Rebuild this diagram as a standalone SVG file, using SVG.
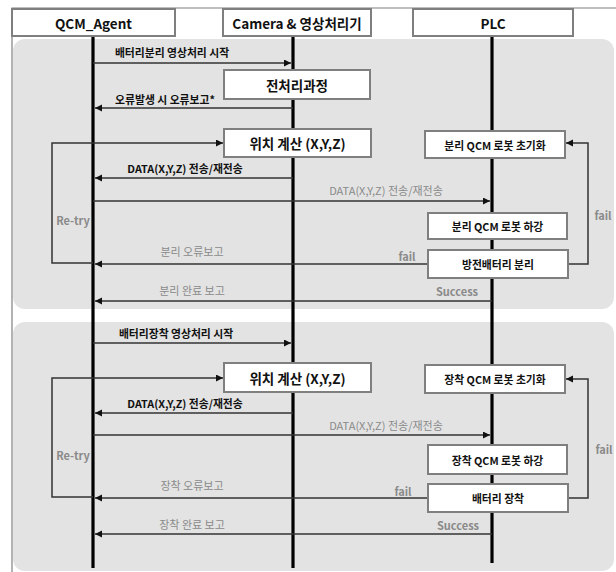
<svg xmlns="http://www.w3.org/2000/svg" width="616" height="572" viewBox="0 0 616 572">
<style>
.bg{fill:#e3e3e3}
.frame{stroke:#808080;stroke-width:1.2;fill:none}
.life{stroke:#000;stroke-width:3.2}
.msg{stroke:#333;stroke-width:1.5;fill:none}
.box{fill:#fff;stroke:#7f7f7f;stroke-width:2}
text{font-family:"Noto Sans CJK KR","Noto Sans",sans-serif;dominant-baseline:central;text-anchor:middle}
.h{font-size:13.5px;font-weight:bold;fill:#111}
.bb{font-size:13.5px;font-weight:bold;fill:#111}
.lb{font-size:10.8px;font-weight:bold;fill:#111}
.gl{font-size:11px;fill:#8a8a8a}
.gb{font-size:11px;font-weight:bold;fill:#8a8a8a}
</style>
<defs>
<marker id="ah" markerUnits="userSpaceOnUse" markerWidth="8" markerHeight="8" refX="7" refY="3.5" orient="auto">
<path d="M0,0 L7,3.5 L0,7 z" fill="#111"/>
</marker>
</defs>
<rect width="616" height="572" fill="#fff"/>
<path class="frame" d="M616,8 H12 V572"/>
<rect class="bg" x="13" y="39" width="601" height="270" rx="12"/>
<rect class="bg" x="13" y="322" width="601" height="249" rx="12"/>

<g id="lifelines">
<line class="life" x1="93" y1="36" x2="93" y2="568"/>
<line class="life" x1="293" y1="36" x2="293" y2="568"/>
<line class="life" x1="492" y1="36" x2="492" y2="563"/>
</g>

<g id="connectors">
<path class="msg" d="M93,63 H291" marker-end="url(#ah)"/>
<path class="msg" d="M293,108 H95" marker-end="url(#ah)"/>
<path class="msg" d="M93,263 H52 V143 H223" marker-end="url(#ah)"/>
<path class="msg" d="M293,178 H95" marker-end="url(#ah)"/>
<path class="msg" d="M93,201 H490" marker-end="url(#ah)"/>
<path class="msg" d="M428,264 H95" marker-end="url(#ah)"/>
<path class="msg" d="M492,301 H95" marker-end="url(#ah)"/>
<path class="msg" d="M568,264 H588 V143 H566" marker-end="url(#ah)"/>
<path class="msg" d="M93,343 H291" marker-end="url(#ah)"/>
<path class="msg" d="M93,497 H52 V378 H223" marker-end="url(#ah)"/>
<path class="msg" d="M293,413 H95" marker-end="url(#ah)"/>
<path class="msg" d="M93,435 H490" marker-end="url(#ah)"/>
<path class="msg" d="M428,498 H95" marker-end="url(#ah)"/>
<path class="msg" d="M492,534 H95" marker-end="url(#ah)"/>
<path class="msg" d="M568,498 H588 V379 H566" marker-end="url(#ah)"/>
<text class="lb" x="172" y="52">배터리분리 영상처리 시작</text>
<text class="lb" x="165" y="99">오류발생 시 오류보고*</text>
<text class="lb" x="185" y="168">DATA(X,Y,Z) 전송/재전송</text>
<text class="gl" x="386" y="190">DATA(X,Y,Z) 전송/재전송</text>
<text class="gb" x="73" y="220">Re-try</text>
<text class="gl" x="192" y="251">분리 오류보고</text>
<text class="gb" x="407" y="256">fail</text>
<text class="gl" x="192" y="290">분리 완료 보고</text>
<text class="gb" x="457" y="291">Success</text>
<text class="gb" x="603" y="215">fail</text>
<text class="lb" x="176" y="333">배터리장착 영상처리 시작</text>
<text class="lb" x="185" y="403">DATA(X,Y,Z) 전송/재전송</text>
<text class="gl" x="386" y="425">DATA(X,Y,Z) 전송/재전송</text>
<text class="gb" x="73" y="455">Re-try</text>
<text class="gl" x="192" y="485">장착 오류보고</text>
<text class="gb" x="403" y="491">fail</text>
<text class="gl" x="192" y="524">장착 완료 보고</text>
<text class="gb" x="458" y="525">Success</text>
<text class="gb" x="604" y="449">fail</text>
</g>

<g id="qcm_agent"><rect class="box" x="12" y="9" width="163" height="27"/><text class="h" x="93.5" y="22.5">QCM_Agent</text></g>
<g id="camera"><rect class="box" x="223" y="9" width="148" height="27"/><text class="h" x="297" y="22.5">Camera &amp; 영상처리기</text></g>
<g id="plc"><rect class="box" x="413" y="9" width="160" height="27"/><text class="h" x="493" y="22.5">PLC</text></g>

<g id="preprocess"><rect class="box" x="224" y="70" width="146" height="29"/><text class="bb" x="297" y="84.5">전처리과정</text></g>
<g id="calc1"><rect class="box" x="224" y="129" width="147" height="28"/><text class="bb" x="297.5" y="143">위치 계산 (X,Y,Z)</text></g>
<g id="init1"><rect class="box" x="425" y="131" width="140" height="27"/><text class="lb" x="495" y="144.5">분리 QCM 로봇 초기화</text></g>
<g id="down1"><rect class="box" x="428" y="213" width="139" height="26"/><text class="lb" x="497.5" y="226">분리 QCM 로봇 하강</text></g>
<g id="detach"><rect class="box" x="428" y="250" width="140" height="28"/><text class="lb" x="498" y="264">방전배터리 분리</text></g>

<g id="calc2"><rect class="box" x="224" y="363" width="147" height="29"/><text class="bb" x="297.5" y="377.5">위치 계산 (X,Y,Z)</text></g>
<g id="init2"><rect class="box" x="425" y="365" width="140" height="28"/><text class="lb" x="495" y="379">장착 QCM 로봇 초기화</text></g>
<g id="down2"><rect class="box" x="428" y="445" width="139" height="29"/><text class="lb" x="497.5" y="459.5">장착 QCM 로봇 하강</text></g>
<g id="attach"><rect class="box" x="428" y="484" width="140" height="28"/><text class="lb" x="498" y="498">배터리 장착</text></g>
</svg>
